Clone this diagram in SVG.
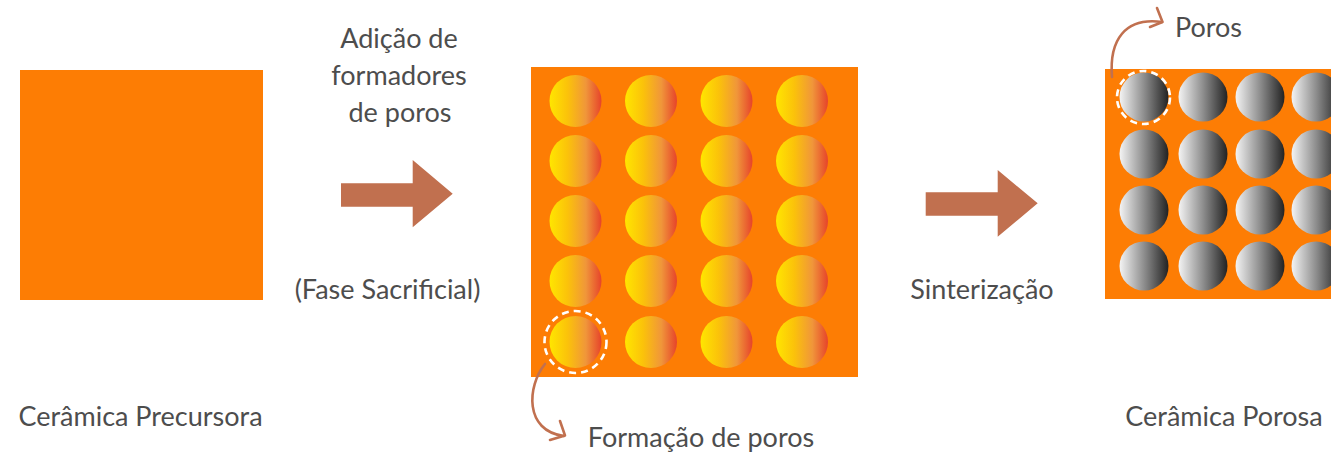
<svg xmlns="http://www.w3.org/2000/svg" width="1331" height="454" viewBox="0 0 1331 454">
  <defs>
    <linearGradient id="gradSacrificial" x1="0" y1="0" x2="1" y2="0">
      <stop offset="0" stop-color="#FFE600"/>
      <stop offset="0.35" stop-color="#FBC20A"/>
      <stop offset="0.7" stop-color="#F0963A"/>
      <stop offset="1" stop-color="#E6432B"/>
    </linearGradient>
    <linearGradient id="gradPore" x1="0" y1="0" x2="1" y2="0">
      <stop offset="0" stop-color="#F4F4F4"/>
      <stop offset="0.5" stop-color="#8E8E8E"/>
      <stop offset="1" stop-color="#222222"/>
    </linearGradient>
    <style>
      .body { fill: #FD7D04; }
      .sac { fill: url(#gradSacrificial); }
      .pore { fill: url(#gradPore); }
      .ring { fill: none; stroke: #FFFFFF; stroke-width: 2.6; stroke-dasharray: 7 5; }
      .block { fill: #C1704F; }
      .curve { fill: none; stroke: #C1704F; stroke-width: 2.6; stroke-linecap: round; stroke-linejoin: round; }
      .label { font-family: Lato, "Open Sans", "Liberation Sans", sans-serif; font-size: 27px; fill: #4D4D4D; text-anchor: middle; }
    </style>
  </defs>

  <!-- Precursor ceramic -->
  <g id="precursor">
    <rect class="body" x="20" y="70" width="243" height="230"/>
    <text class="label" x="140.5" y="426">Cerâmica Precursora</text>
  </g>

  <!-- Ceramic with sacrificial pore formers -->
  <g id="sacrificial">
    <rect class="body" x="531" y="67" width="327" height="310"/>
    <g class="sac">
      <circle cx="575.5" cy="101" r="26"/><circle cx="651" cy="101" r="26"/><circle cx="726.5" cy="101" r="26"/><circle cx="802" cy="101" r="26"/>
      <circle cx="575.5" cy="161" r="26"/><circle cx="651" cy="161" r="26"/><circle cx="726.5" cy="161" r="26"/><circle cx="802" cy="161" r="26"/>
      <circle cx="575.5" cy="221" r="26"/><circle cx="651" cy="221" r="26"/><circle cx="726.5" cy="221" r="26"/><circle cx="802" cy="221" r="26"/>
      <circle cx="575.5" cy="281" r="26"/><circle cx="651" cy="281" r="26"/><circle cx="726.5" cy="281" r="26"/><circle cx="802" cy="281" r="26"/>
      <circle cx="575.5" cy="342" r="26"/><circle cx="651" cy="342" r="26"/><circle cx="726.5" cy="342" r="26"/><circle cx="802" cy="342" r="26"/>
    </g>
    <circle class="ring" cx="575.5" cy="342" r="31"/>
    <text class="label" x="701" y="447">Formação de poros</text>
  </g>

  <!-- Porous ceramic after sintering -->
  <g id="porous">
    <rect class="body" x="1105" y="69" width="226" height="230"/>
    <g class="pore">
      <circle cx="1144" cy="97" r="24.5"/><circle cx="1203" cy="97" r="24.5"/><circle cx="1260" cy="97" r="24.5"/><circle cx="1316" cy="97" r="24.5"/>
      <circle cx="1144" cy="154" r="24.5"/><circle cx="1203" cy="154" r="24.5"/><circle cx="1260" cy="154" r="24.5"/><circle cx="1316" cy="154" r="24.5"/>
      <circle cx="1144" cy="210" r="24.5"/><circle cx="1203" cy="210" r="24.5"/><circle cx="1260" cy="210" r="24.5"/><circle cx="1316" cy="210" r="24.5"/>
      <circle cx="1144" cy="266" r="24.5"/><circle cx="1203" cy="266" r="24.5"/><circle cx="1260" cy="266" r="24.5"/><circle cx="1316" cy="266" r="24.5"/>
    </g>
    <circle class="ring" cx="1143.5" cy="97.5" r="26.5"/>
    <text class="label" x="1208.5" y="37">Poros</text>
    <text class="label" x="1224" y="426">Cerâmica Porosa</text>
  </g>

  <!-- Step labels -->
  <g id="step-addition">
    <text class="label" x="399" y="48">Adição de</text>
    <text class="label" x="399" y="85">formadores</text>
    <text class="label" x="400" y="122">de poros</text>
    <text class="label" x="387.5" y="299">(Fase Sacrificial)</text>
  </g>
  <g id="step-sintering">
    <text class="label" x="982" y="299">Sinterização</text>
  </g>

  <!-- Connectors -->
  <g id="connectors">
    <polygon class="block" points="341,183.3 412.7,183.3 412.7,160 452.7,193.7 412.7,227.3 412.7,206.7 341,206.7"/>
    <polygon class="block" points="925.7,192.3 997.7,192.3 997.7,170 1037.7,203.3 997.7,236.7 997.7,215.7 925.7,215.7"/>
    <path class="curve" d="M545,364 C527,386 524,431 564,436"/>
    <path class="curve" d="M560,421 L565,435.5 L550,440"/>
    <path class="curve" d="M1112,77 C1109,40 1125,17 1162,22"/>
    <path class="curve" d="M1157,8 L1162.5,22 L1150,27"/>
  </g>
</svg>
